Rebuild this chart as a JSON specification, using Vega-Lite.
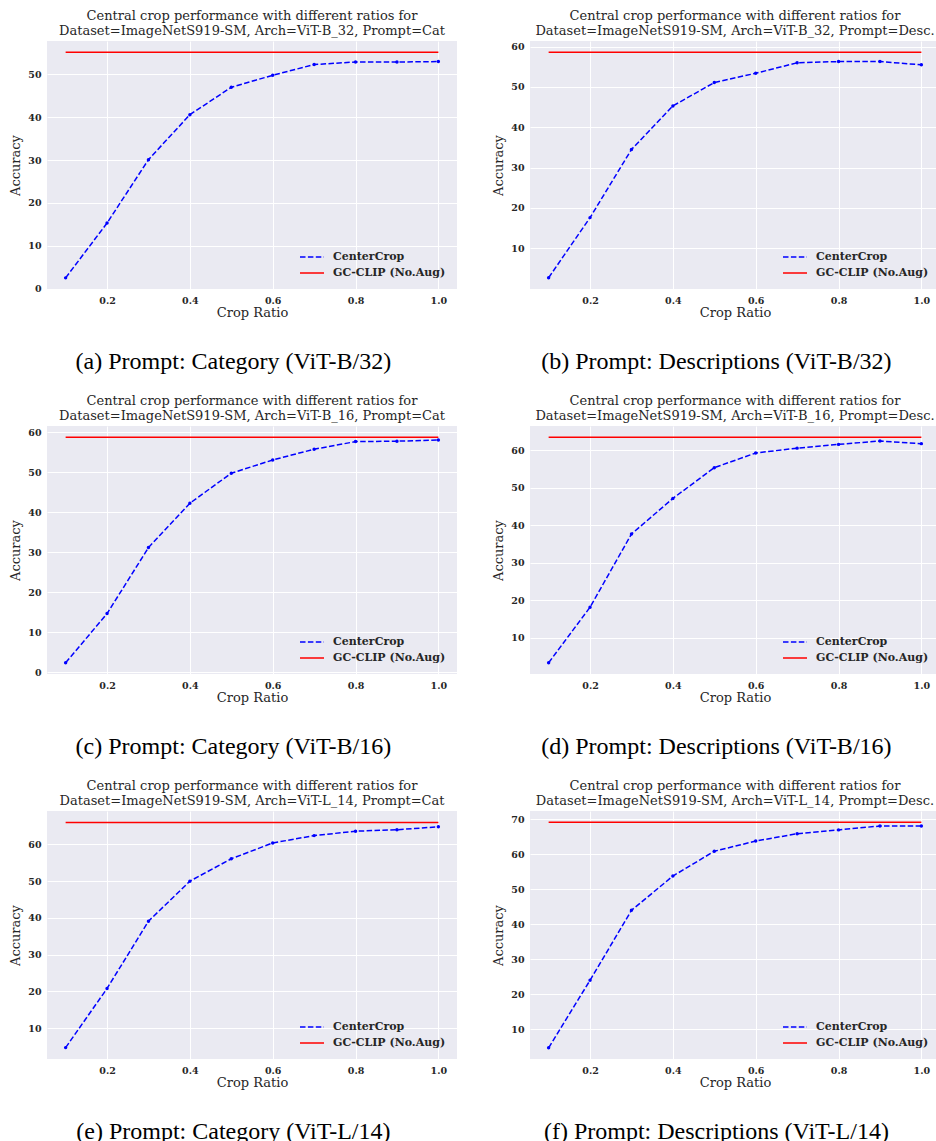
{
  "$schema": "https://vega.github.io/schema/vega-lite/v6.json",
  "background": "white",
  "padding": {"left": 9, "top": 10, "right": 0, "bottom": 0},
  "data": {"values": [
    {"p":"a","r":0.1,"acc":2.5,"m":"CenterCrop"},{"p":"a","r":0.2,"acc":15.3,"m":"CenterCrop"},{"p":"a","r":0.3,"acc":30.1,"m":"CenterCrop"},{"p":"a","r":0.4,"acc":40.6,"m":"CenterCrop"},{"p":"a","r":0.5,"acc":47.0,"m":"CenterCrop"},{"p":"a","r":0.6,"acc":49.8,"m":"CenterCrop"},{"p":"a","r":0.7,"acc":52.3,"m":"CenterCrop"},{"p":"a","r":0.8,"acc":52.9,"m":"CenterCrop"},{"p":"a","r":0.9,"acc":52.9,"m":"CenterCrop"},{"p":"a","r":1.0,"acc":53.0,"m":"CenterCrop"},
    {"p":"a","r":0.1,"acc":55.2,"m":"GC-CLIP (No.Aug)"},{"p":"a","r":1.0,"acc":55.2,"m":"GC-CLIP (No.Aug)"},
    {"p":"b","r":0.1,"acc":2.7,"m":"CenterCrop"},{"p":"b","r":0.2,"acc":17.6,"m":"CenterCrop"},{"p":"b","r":0.3,"acc":34.5,"m":"CenterCrop"},{"p":"b","r":0.4,"acc":45.3,"m":"CenterCrop"},{"p":"b","r":0.5,"acc":51.1,"m":"CenterCrop"},{"p":"b","r":0.6,"acc":53.4,"m":"CenterCrop"},{"p":"b","r":0.7,"acc":56.0,"m":"CenterCrop"},{"p":"b","r":0.8,"acc":56.3,"m":"CenterCrop"},{"p":"b","r":0.9,"acc":56.3,"m":"CenterCrop"},{"p":"b","r":1.0,"acc":55.5,"m":"CenterCrop"},
    {"p":"b","r":0.1,"acc":58.6,"m":"GC-CLIP (No.Aug)"},{"p":"b","r":1.0,"acc":58.6,"m":"GC-CLIP (No.Aug)"},
    {"p":"c","r":0.1,"acc":2.3,"m":"CenterCrop"},{"p":"c","r":0.2,"acc":14.6,"m":"CenterCrop"},{"p":"c","r":0.3,"acc":31.1,"m":"CenterCrop"},{"p":"c","r":0.4,"acc":42.2,"m":"CenterCrop"},{"p":"c","r":0.5,"acc":49.7,"m":"CenterCrop"},{"p":"c","r":0.6,"acc":53.0,"m":"CenterCrop"},{"p":"c","r":0.7,"acc":55.7,"m":"CenterCrop"},{"p":"c","r":0.8,"acc":57.6,"m":"CenterCrop"},{"p":"c","r":0.9,"acc":57.7,"m":"CenterCrop"},{"p":"c","r":1.0,"acc":58.0,"m":"CenterCrop"},
    {"p":"c","r":0.1,"acc":58.7,"m":"GC-CLIP (No.Aug)"},{"p":"c","r":1.0,"acc":58.7,"m":"GC-CLIP (No.Aug)"},
    {"p":"d","r":0.1,"acc":3.3,"m":"CenterCrop"},{"p":"d","r":0.2,"acc":18.1,"m":"CenterCrop"},{"p":"d","r":0.3,"acc":37.6,"m":"CenterCrop"},{"p":"d","r":0.4,"acc":47.1,"m":"CenterCrop"},{"p":"d","r":0.5,"acc":55.3,"m":"CenterCrop"},{"p":"d","r":0.6,"acc":59.2,"m":"CenterCrop"},{"p":"d","r":0.7,"acc":60.5,"m":"CenterCrop"},{"p":"d","r":0.8,"acc":61.5,"m":"CenterCrop"},{"p":"d","r":0.9,"acc":62.4,"m":"CenterCrop"},{"p":"d","r":1.0,"acc":61.7,"m":"CenterCrop"},
    {"p":"d","r":0.1,"acc":63.4,"m":"GC-CLIP (No.Aug)"},{"p":"d","r":1.0,"acc":63.4,"m":"GC-CLIP (No.Aug)"},
    {"p":"e","r":0.1,"acc":4.7,"m":"CenterCrop"},{"p":"e","r":0.2,"acc":20.8,"m":"CenterCrop"},{"p":"e","r":0.3,"acc":39.1,"m":"CenterCrop"},{"p":"e","r":0.4,"acc":50.0,"m":"CenterCrop"},{"p":"e","r":0.5,"acc":56.1,"m":"CenterCrop"},{"p":"e","r":0.6,"acc":60.4,"m":"CenterCrop"},{"p":"e","r":0.7,"acc":62.4,"m":"CenterCrop"},{"p":"e","r":0.8,"acc":63.6,"m":"CenterCrop"},{"p":"e","r":0.9,"acc":64.0,"m":"CenterCrop"},{"p":"e","r":1.0,"acc":64.8,"m":"CenterCrop"},
    {"p":"e","r":0.1,"acc":66.0,"m":"GC-CLIP (No.Aug)"},{"p":"e","r":1.0,"acc":66.0,"m":"GC-CLIP (No.Aug)"},
    {"p":"f","r":0.1,"acc":4.7,"m":"CenterCrop"},{"p":"f","r":0.2,"acc":24.0,"m":"CenterCrop"},{"p":"f","r":0.3,"acc":44.0,"m":"CenterCrop"},{"p":"f","r":0.4,"acc":53.8,"m":"CenterCrop"},{"p":"f","r":0.5,"acc":60.9,"m":"CenterCrop"},{"p":"f","r":0.6,"acc":63.8,"m":"CenterCrop"},{"p":"f","r":0.7,"acc":65.9,"m":"CenterCrop"},{"p":"f","r":0.8,"acc":67.0,"m":"CenterCrop"},{"p":"f","r":0.9,"acc":68.1,"m":"CenterCrop"},{"p":"f","r":1.0,"acc":68.1,"m":"CenterCrop"},
    {"p":"f","r":0.1,"acc":69.2,"m":"GC-CLIP (No.Aug)"},{"p":"f","r":1.0,"acc":69.2,"m":"GC-CLIP (No.Aug)"}
  ]},
  "columns": 2,
  "spacing": {"row": 21, "column": 35},
  "concat": [
    {"title": {"text": "(a) Prompt: Category (ViT-B/32)", "orient": "bottom"},
     "resolve": {"scale": {"color": "independent", "strokeDash": "independent"}, "legend": {"color": "independent", "strokeDash": "independent"}},
     "vconcat": [{
      "width": 410, "height": 248,
      "title": {"text": ["Central crop performance with different ratios for", "Dataset=ImageNetS919-SM, Arch=ViT-B_32, Prompt=Cat"], "orient": "top", "frame": "group", "font": "DejaVu Serif", "fontSize": 13, "fontWeight": "normal", "color": "#262626", "lineHeight": 14.7, "offset": -10, "baseline": "bottom"},
      "transform": [{"filter": "datum.p === 'a'"}],
      "layer": [
        {"mark": {"type": "line", "strokeWidth": 1.5},
         "encoding": {
          "x": {"field": "r", "type": "quantitative", "scale": {"domain": [0.055, 1.045], "nice": false, "zero": false}, "axis": {"values": [0.2, 0.4, 0.6, 0.8, 1.0], "format": ".1f", "title": "Crop Ratio"}},
          "y": {"field": "acc", "type": "quantitative", "scale": {"domain": [-0.1, 57.8], "nice": false, "zero": false}, "axis": {"values": [0, 10, 20, 30, 40, 50], "format": "d", "title": "Accuracy"}},
          "color": {"field": "m", "type": "nominal", "scale": {"domain": ["CenterCrop", "GC-CLIP (No.Aug)"], "range": ["#0000FF", "#FF0000"]}, "legend": {"title": null}},
          "strokeDash": {"field": "m", "type": "nominal", "scale": {"domain": ["CenterCrop", "GC-CLIP (No.Aug)"], "range": [[5.5, 2.4], [1, 0]]}, "legend": {"title": null}}
         }},
        {"mark": {"type": "point", "filled": true, "size": 12, "color": "#0000FF", "opacity": 1},
         "transform": [{"filter": "datum.m === 'CenterCrop'"}],
         "encoding": {"x": {"field": "r", "type": "quantitative"}, "y": {"field": "acc", "type": "quantitative"}}}
      ]}]},
    {"title": {"text": "(b) Prompt: Descriptions (ViT-B/32)", "orient": "bottom"},
     "resolve": {"scale": {"color": "independent", "strokeDash": "independent"}, "legend": {"color": "independent", "strokeDash": "independent"}},
     "vconcat": [{
      "width": 410, "height": 248,
      "title": {"text": ["Central crop performance with different ratios for", "Dataset=ImageNetS919-SM, Arch=ViT-B_32, Prompt=Desc."], "orient": "top", "frame": "group", "font": "DejaVu Serif", "fontSize": 13, "fontWeight": "normal", "color": "#262626", "lineHeight": 14.7, "offset": -10, "baseline": "bottom"},
      "transform": [{"filter": "datum.p === 'b'"}],
      "layer": [
        {"mark": {"type": "line", "strokeWidth": 1.5},
         "encoding": {
          "x": {"field": "r", "type": "quantitative", "scale": {"domain": [0.055, 1.045], "nice": false, "zero": false}, "axis": {"values": [0.2, 0.4, 0.6, 0.8, 1.0], "format": ".1f", "title": "Crop Ratio"}},
          "y": {"field": "acc", "type": "quantitative", "scale": {"domain": [-0.1, 61.4], "nice": false, "zero": false}, "axis": {"values": [10, 20, 30, 40, 50, 60], "format": "d", "title": "Accuracy"}},
          "color": {"field": "m", "type": "nominal", "scale": {"domain": ["CenterCrop", "GC-CLIP (No.Aug)"], "range": ["#0000FF", "#FF0000"]}, "legend": {"title": null}},
          "strokeDash": {"field": "m", "type": "nominal", "scale": {"domain": ["CenterCrop", "GC-CLIP (No.Aug)"], "range": [[5.5, 2.4], [1, 0]]}, "legend": {"title": null}}
         }},
        {"mark": {"type": "point", "filled": true, "size": 12, "color": "#0000FF", "opacity": 1},
         "transform": [{"filter": "datum.m === 'CenterCrop'"}],
         "encoding": {"x": {"field": "r", "type": "quantitative"}, "y": {"field": "acc", "type": "quantitative"}}}
      ]}]},
    {"title": {"text": "(c) Prompt: Category (ViT-B/16)", "orient": "bottom"},
     "resolve": {"scale": {"color": "independent", "strokeDash": "independent"}, "legend": {"color": "independent", "strokeDash": "independent"}},
     "vconcat": [{
      "width": 410, "height": 248,
      "title": {"text": ["Central crop performance with different ratios for", "Dataset=ImageNetS919-SM, Arch=ViT-B_16, Prompt=Cat"], "orient": "top", "frame": "group", "font": "DejaVu Serif", "fontSize": 13, "fontWeight": "normal", "color": "#262626", "lineHeight": 14.7, "offset": -10, "baseline": "bottom"},
      "transform": [{"filter": "datum.p === 'c'"}],
      "layer": [
        {"mark": {"type": "line", "strokeWidth": 1.5},
         "encoding": {
          "x": {"field": "r", "type": "quantitative", "scale": {"domain": [0.055, 1.045], "nice": false, "zero": false}, "axis": {"values": [0.2, 0.4, 0.6, 0.8, 1.0], "format": ".1f", "title": "Crop Ratio"}},
          "y": {"field": "acc", "type": "quantitative", "scale": {"domain": [-0.5, 61.5], "nice": false, "zero": false}, "axis": {"values": [0, 10, 20, 30, 40, 50, 60], "format": "d", "title": "Accuracy"}},
          "color": {"field": "m", "type": "nominal", "scale": {"domain": ["CenterCrop", "GC-CLIP (No.Aug)"], "range": ["#0000FF", "#FF0000"]}, "legend": {"title": null}},
          "strokeDash": {"field": "m", "type": "nominal", "scale": {"domain": ["CenterCrop", "GC-CLIP (No.Aug)"], "range": [[5.5, 2.4], [1, 0]]}, "legend": {"title": null}}
         }},
        {"mark": {"type": "point", "filled": true, "size": 12, "color": "#0000FF", "opacity": 1},
         "transform": [{"filter": "datum.m === 'CenterCrop'"}],
         "encoding": {"x": {"field": "r", "type": "quantitative"}, "y": {"field": "acc", "type": "quantitative"}}}
      ]}]},
    {"title": {"text": "(d) Prompt: Descriptions (ViT-B/16)", "orient": "bottom"},
     "resolve": {"scale": {"color": "independent", "strokeDash": "independent"}, "legend": {"color": "independent", "strokeDash": "independent"}},
     "vconcat": [{
      "width": 410, "height": 248,
      "title": {"text": ["Central crop performance with different ratios for", "Dataset=ImageNetS919-SM, Arch=ViT-B_16, Prompt=Desc."], "orient": "top", "frame": "group", "font": "DejaVu Serif", "fontSize": 13, "fontWeight": "normal", "color": "#262626", "lineHeight": 14.7, "offset": -10, "baseline": "bottom"},
      "transform": [{"filter": "datum.p === 'd'"}],
      "layer": [
        {"mark": {"type": "line", "strokeWidth": 1.5},
         "encoding": {
          "x": {"field": "r", "type": "quantitative", "scale": {"domain": [0.055, 1.045], "nice": false, "zero": false}, "axis": {"values": [0.2, 0.4, 0.6, 0.8, 1.0], "format": ".1f", "title": "Crop Ratio"}},
          "y": {"field": "acc", "type": "quantitative", "scale": {"domain": [0.3, 66.4], "nice": false, "zero": false}, "axis": {"values": [10, 20, 30, 40, 50, 60], "format": "d", "title": "Accuracy"}},
          "color": {"field": "m", "type": "nominal", "scale": {"domain": ["CenterCrop", "GC-CLIP (No.Aug)"], "range": ["#0000FF", "#FF0000"]}, "legend": {"title": null}},
          "strokeDash": {"field": "m", "type": "nominal", "scale": {"domain": ["CenterCrop", "GC-CLIP (No.Aug)"], "range": [[5.5, 2.4], [1, 0]]}, "legend": {"title": null}}
         }},
        {"mark": {"type": "point", "filled": true, "size": 12, "color": "#0000FF", "opacity": 1},
         "transform": [{"filter": "datum.m === 'CenterCrop'"}],
         "encoding": {"x": {"field": "r", "type": "quantitative"}, "y": {"field": "acc", "type": "quantitative"}}}
      ]}]},
    {"title": {"text": "(e) Prompt: Category (ViT-L/14)", "orient": "bottom"},
     "resolve": {"scale": {"color": "independent", "strokeDash": "independent"}, "legend": {"color": "independent", "strokeDash": "independent"}},
     "vconcat": [{
      "width": 410, "height": 248,
      "title": {"text": ["Central crop performance with different ratios for", "Dataset=ImageNetS919-SM, Arch=ViT-L_14, Prompt=Cat"], "orient": "top", "frame": "group", "font": "DejaVu Serif", "fontSize": 13, "fontWeight": "normal", "color": "#262626", "lineHeight": 14.7, "offset": -10, "baseline": "bottom"},
      "transform": [{"filter": "datum.p === 'e'"}],
      "layer": [
        {"mark": {"type": "line", "strokeWidth": 1.5},
         "encoding": {
          "x": {"field": "r", "type": "quantitative", "scale": {"domain": [0.055, 1.045], "nice": false, "zero": false}, "axis": {"values": [0.2, 0.4, 0.6, 0.8, 1.0], "format": ".1f", "title": "Crop Ratio"}},
          "y": {"field": "acc", "type": "quantitative", "scale": {"domain": [1.6, 69.1], "nice": false, "zero": false}, "axis": {"values": [10, 20, 30, 40, 50, 60], "format": "d", "title": "Accuracy"}},
          "color": {"field": "m", "type": "nominal", "scale": {"domain": ["CenterCrop", "GC-CLIP (No.Aug)"], "range": ["#0000FF", "#FF0000"]}, "legend": {"title": null}},
          "strokeDash": {"field": "m", "type": "nominal", "scale": {"domain": ["CenterCrop", "GC-CLIP (No.Aug)"], "range": [[5.5, 2.4], [1, 0]]}, "legend": {"title": null}}
         }},
        {"mark": {"type": "point", "filled": true, "size": 12, "color": "#0000FF", "opacity": 1},
         "transform": [{"filter": "datum.m === 'CenterCrop'"}],
         "encoding": {"x": {"field": "r", "type": "quantitative"}, "y": {"field": "acc", "type": "quantitative"}}}
      ]}]},
    {"title": {"text": "(f) Prompt: Descriptions (ViT-L/14)", "orient": "bottom"},
     "resolve": {"scale": {"color": "independent", "strokeDash": "independent"}, "legend": {"color": "independent", "strokeDash": "independent"}},
     "vconcat": [{
      "width": 410, "height": 248,
      "title": {"text": ["Central crop performance with different ratios for", "Dataset=ImageNetS919-SM, Arch=ViT-L_14, Prompt=Desc."], "orient": "top", "frame": "group", "font": "DejaVu Serif", "fontSize": 13, "fontWeight": "normal", "color": "#262626", "lineHeight": 14.7, "offset": -10, "baseline": "bottom"},
      "transform": [{"filter": "datum.p === 'f'"}],
      "layer": [
        {"mark": {"type": "line", "strokeWidth": 1.5},
         "encoding": {
          "x": {"field": "r", "type": "quantitative", "scale": {"domain": [0.055, 1.045], "nice": false, "zero": false}, "axis": {"values": [0.2, 0.4, 0.6, 0.8, 1.0], "format": ".1f", "title": "Crop Ratio"}},
          "y": {"field": "acc", "type": "quantitative", "scale": {"domain": [1.5, 72.4], "nice": false, "zero": false}, "axis": {"values": [10, 20, 30, 40, 50, 60, 70], "format": "d", "title": "Accuracy"}},
          "color": {"field": "m", "type": "nominal", "scale": {"domain": ["CenterCrop", "GC-CLIP (No.Aug)"], "range": ["#0000FF", "#FF0000"]}, "legend": {"title": null}},
          "strokeDash": {"field": "m", "type": "nominal", "scale": {"domain": ["CenterCrop", "GC-CLIP (No.Aug)"], "range": [[5.5, 2.4], [1, 0]]}, "legend": {"title": null}}
         }},
        {"mark": {"type": "point", "filled": true, "size": 12, "color": "#0000FF", "opacity": 1},
         "transform": [{"filter": "datum.m === 'CenterCrop'"}],
         "encoding": {"x": {"field": "r", "type": "quantitative"}, "y": {"field": "acc", "type": "quantitative"}}}
      ]}]}
  ],
  "resolve": {"scale": {"color": "independent", "strokeDash": "independent"}, "legend": {"color": "independent", "strokeDash": "independent"}},
  "config": {
    "view": {"fill": "#EAEAF2", "stroke": null},
    "title": {"orient": "bottom", "font": "Liberation Serif", "fontSize": 24, "fontWeight": "normal", "color": "black", "offset": 30, "anchor": "middle", "frame": "bounds"},
    "axis": {"domain": false, "ticks": false, "grid": true, "gridColor": "white", "gridWidth": 1, "gridOpacity": 1, "labelFont": "DejaVu Serif", "labelFontWeight": "bold", "labelFontSize": 9.5, "labelColor": "#262626", "labelPadding": 6, "labelFlush": false, "labelOverlap": false, "titleFont": "DejaVu Serif", "titleFontWeight": "normal", "titleFontSize": 13, "titleColor": "#262626"},
    "axisX": {"titlePadding": 2},
    "axisY": {"titlePadding": 5},
    "legend": {"orient": "bottom-right", "offset": 11, "padding": 0, "symbolType": "M-2.4,0H2.4", "symbolSize": 100, "symbolStrokeWidth": 1.5, "labelFont": "DejaVu Serif", "labelFontWeight": "bold", "labelFontSize": 11, "labelColor": "#262626", "rowPadding": 5, "labelOffset": 15}
  }
}
